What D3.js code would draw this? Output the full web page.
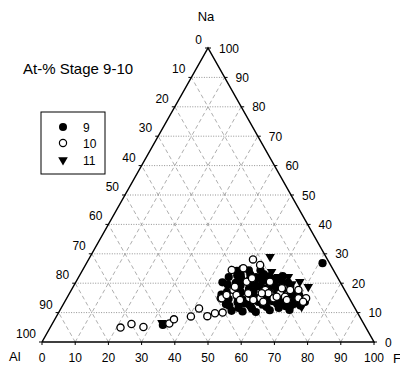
<!DOCTYPE html>
<html>
<head>
<meta charset="utf-8">
<script src="https://d3js.org/d3.v7.min.js"></script>
<style>
  body { margin: 0; background: #fff; }
  svg { display: block; font-family: "Liberation Sans", Arial, sans-serif; }
  .lbl { font-size: 12px; fill: #000; }
</style>
</head>
<body>
<div id="chart"></div>
<script>
// ternary values as [F, Na] in at-%, Al = 100 - F - Na
var tickValues = [0, 10, 20, 30, 40, 50, 60, 70, 80, 90, 100];
var gridValues = [10, 20, 30, 40, 50, 60, 70, 80, 90];

var stage9 = [
  [51.8,10.6],[33.5,5.8],[71.1,26.8],
  [53.4,11.6],[55.2,10.4],[57.6,11.3],[59.3,10.2],[61.7,11.9],[63.2,10.8],[65.5,11.6],[67.3,12.2],[69.1,10.9],[71.6,12.4],[50.3,12.3],
  [54.5,13.1],[56.2,12.6],[58.4,13.6],[60.1,12.7],[62.5,13.9],[64.3,13.0],[66.1,13.7],[68.4,14.1],[70.2,13.2],[72.4,13.6],
  [48.9,14.6],[51.2,15.3],[53.1,14.5],[55.6,15.8],[57.3,14.9],[59.2,15.9],[61.4,15.1],[63.3,16.2],[65.2,15.4],[67.5,16.4],[69.6,15.8],
  [47.2,17.1],[49.4,17.6],[51.5,16.9],[53.3,18.1],[55.1,17.3],[57.4,18.3],[59.6,17.5],[61.2,18.6],[63.5,17.7],[65.4,18.8],
  [46.1,19.6],[48.3,20.1],[50.2,19.2],[52.4,20.4],[54.3,19.7],[56.1,20.8],[58.5,19.9],[60.3,21.1],[62.2,20.3],
  [45.2,22.1],[47.5,22.6],[49.1,21.7],[51.3,22.9],[53.4,22.1],[55.2,23.1],[57.1,22.3],[50.1,24.4],[46.6,24.2],
  [52.2,13.4],[56.9,12.0],[60.8,14.2],[64.8,14.6],[68.9,12.6],[54.2,16.4],[58.1,16.8],[62.3,17.0],[66.2,17.3],[50.3,18.2],
  [56.0,18.9],[60.0,19.3],[64.0,20.2],[48.4,22.9],[52.0,21.2],[54.9,21.8],[58.6,21.6],[61.3,22.4],[47.9,24.9],[53.6,24.4],
  [44.2,20.3],[46.0,16.1],[49.0,12.8],[70.9,14.6],[67.7,15.2]
];
var stage10 = [
  [21.2,4.9],[23.9,6.1],[28.0,5.1],[35.2,6.3],[35.9,7.7],[40.5,8.7],[41.6,11.4],[45.4,8.8],[47.2,9.8],[49.4,10.0],[46.4,14.9],
  [44.9,24.5],[48.1,25.1],[49.5,28.1],[52.6,26.2],[51.4,20.5],[48.8,17.7],[53.8,16.6],[50.6,16.0],[58.4,17.7],[59.9,16.6],
  [58.3,14.9],[63.4,16.6],[65.9,17.7],[65.5,15.4],[69.8,14.9],[72.1,14.9],[68.4,17.7],[46.7,14.9],[48.7,18.8],[52.4,21.7],
  [57.9,16.6],[47.6,16.0],[56.5,14.3],[59.8,13.7],[62.3,14.9],[58.4,20.5],[52.5,14.3],[63.1,18.3],[63.0,15.4],[66.6,14.3],[71.8,13.7]
];
var stage11 = [
  [32.9,6.5],[54.2,29.0],[60.1,22.2],[63.1,22.2],[67.4,20.5],[70.8,18.8],[72.2,12.0],[57.2,23.9],[55.2,21.1],[65.4,19.7],
  [69.6,13.3],[65.5,13.6],[52.7,20.1]
];
var legendItems = ["9", "10", "11"];

var width = 400, height = 366;
var x0 = 42, x1 = 374, yBase = 342, yApex = 48;

var svg = d3.select("#chart").append("svg")
  .attr("width", width)
  .attr("height", height);

// x runs with F + Na/2, y with Na
var xScale = d3.scaleLinear().domain([0, 100]).range([x0, x1]);
var yScale = d3.scaleLinear().domain([0, 100]).range([yBase, yApex]);
function px(f, na) { return xScale(f + na / 2); }
function py(f, na) { return yScale(na); }

var line = d3.line()
  .x(function(d){ return px(d[0], d[1]); })
  .y(function(d){ return py(d[0], d[1]); });

var grid = svg.append("g");
// constant Na: fine dots
gridValues.forEach(function(v){
  grid.append("path")
    .attr("d", line([[0, v], [100 - v, v]]))
    .attr("stroke", "#777").attr("stroke-width", 0.8)
    .attr("stroke-dasharray", "1,1.5").attr("fill", "none");
});
// constant F and constant Al: dashes
gridValues.forEach(function(v){
  grid.append("path")
    .attr("d", line([[v, 0], [v, 100 - v]]))
    .attr("stroke", "#999").attr("stroke-width", 0.8)
    .attr("stroke-dasharray", "4,3").attr("fill", "none");
  grid.append("path")
    .attr("d", line([[100 - v, 0], [0, 100 - v]]))
    .attr("stroke", "#999").attr("stroke-width", 0.8)
    .attr("stroke-dasharray", "4,3").attr("fill", "none");
});

// triangle frame
svg.append("path")
  .attr("d", line([[0, 0], [100, 0], [0, 100], [0, 0]]))
  .attr("fill", "none").attr("stroke", "#000").attr("stroke-width", 1.5);

// ticks and labels
var axes = svg.append("g");
tickValues.forEach(function(v){
  // bottom: F
  var bx = px(v, 0), by = py(v, 0);
  axes.append("line").attr("x1", bx).attr("x2", bx).attr("y1", by).attr("y2", by + 3)
    .attr("stroke", "#000").attr("stroke-width", 1);
  axes.append("text").attr("class", "lbl")
    .attr("x", bx).attr("y", by + 20)
    .attr("text-anchor", "middle").text(v);
  // left: Al
  var lx = px(0, 100 - v), ly = py(0, 100 - v);
  axes.append("line").attr("x1", lx).attr("x2", lx - 3).attr("y1", ly).attr("y2", ly)
    .attr("stroke", "#000").attr("stroke-width", 1);
  axes.append("text").attr("class", "lbl")
    .attr("x", lx - 6).attr("y", ly - 4)
    .attr("text-anchor", "end").text(v);
  // right: Na
  var rx = px(100 - v, v), ry = py(100 - v, v);
  axes.append("line").attr("x1", rx).attr("x2", rx + 3).attr("y1", ry).attr("y2", ry)
    .attr("stroke", "#000").attr("stroke-width", 1);
  axes.append("text").attr("class", "lbl")
    .attr("x", rx + 11).attr("y", ry + 4.5)
    .attr("text-anchor", "start").text(v);
});

svg.append("text").attr("class", "lbl").attr("x", 206).attr("y", 21)
  .attr("text-anchor", "middle").style("font-size", "13px").text("Na");
svg.append("text").attr("class", "lbl").attr("x", 9).attr("y", 361)
  .style("font-size", "13px").text("Al");
svg.append("text").attr("class", "lbl").attr("x", 393).attr("y", 363)
  .style("font-size", "13px").text("F");

svg.append("text").attr("class", "lbl").attr("x", 23).attr("y", 74)
  .style("font-size", "15px").text("At-% Stage 9-10");

// points
var pts = svg.append("g");
pts.selectAll("circle.s9").data(stage9).enter().append("circle")
  .attr("class", "s9")
  .attr("cx", function(d){ return px(d[0], d[1]); })
  .attr("cy", function(d){ return py(d[0], d[1]); })
  .attr("r", 4.1).attr("fill", "#000");

var tri = d3.symbol().type(d3.symbolTriangle).size(40);
pts.selectAll("path.s11").data(stage11).enter().append("path")
  .attr("class", "s11")
  .attr("d", tri)
  .attr("transform", function(d){ return "translate(" + px(d[0], d[1]) + "," + py(d[0], d[1]) + ") rotate(180)"; })
  .attr("fill", "#000");

pts.selectAll("circle.s10").data(stage10).enter().append("circle")
  .attr("class", "s10")
  .attr("cx", function(d){ return px(d[0], d[1]); })
  .attr("cy", function(d){ return py(d[0], d[1]); })
  .attr("r", 3.6).attr("fill", "#fff").attr("stroke", "#000").attr("stroke-width", 1.3);

// legend
var lg = svg.append("g");
lg.append("rect").attr("x", 41).attr("y", 112).attr("width", 64).attr("height", 62)
  .attr("fill", "#fff").attr("stroke", "#000").attr("stroke-width", 1);
var legY = [127, 143, 160];
lg.append("circle").attr("cx", 63).attr("cy", legY[0]).attr("r", 4).attr("fill", "#000");
lg.append("circle").attr("cx", 63).attr("cy", legY[1]).attr("r", 3.6)
  .attr("fill", "#fff").attr("stroke", "#000").attr("stroke-width", 1.2);
lg.append("path").attr("d", tri)
  .attr("transform", "translate(63," + legY[2] + ") rotate(180)").attr("fill", "#000");
legendItems.forEach(function(t, i){
  lg.append("text").attr("class", "lbl").attr("x", 83).attr("y", legY[i] + 4.5).text(t);
});
</script>
</body>
</html>
